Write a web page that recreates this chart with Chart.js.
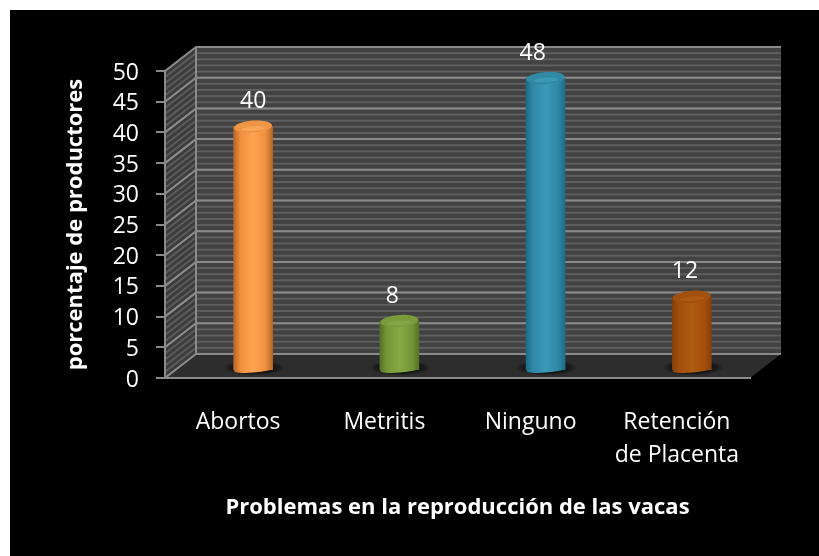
<!DOCTYPE html>
<html><head><meta charset="utf-8">
<style>html,body{margin:0;padding:0;background:#fff}canvas{display:block}</style>
<script src="https://cdn.jsdelivr.net/npm/chart.js@4"></script>
</head><body><canvas id="c" width="819" height="556"></canvas>
<script>
const categories = ['Abortos', 'Metritis', 'Ninguno', ['Retención', 'de Placenta']];
const values = [40, 8, 48, 12];
const yTicks = [0, 5, 10, 15, 20, 25, 30, 35, 40, 45, 50];
const xTitle = 'Problemas en la reproducción de las vacas';
const yTitle = 'porcentaje de productores';
const barDark = ['#b5662a', '#567226', '#1f6c86', '#84400a'];
const barMid = ['#f0903f', '#759637', '#2f88a5', '#a3500c'];
const barLight = ['#ffa552', '#86a843', '#3b9ab8', '#b05a12'];
const capColor = ['#ee9445', '#7a9a3b', '#308aa6', '#a2500e'];
const capGlow = ['#f9a658', '#85a644', '#3c9ab6', '#ae5a12'];

const FONT = '"Open Sans", sans-serif';
const DX = 31, DY = -24, BAR_DX = 15, RY = 6, BASE_RY = 3, TILT = -0.07;
const labelDx = [15, 8, 2, 8];

const scene = {
  id: 'scene',
  beforeDraw(chart) {
    const ctx = chart.ctx, a = chart.chartArea, y = chart.scales.y;
    ctx.save();
    ctx.fillStyle = '#000';
    ctx.fillRect(10, 10, chart.width - 10, chart.height - 10);
    const wy0 = a.top + DY, wy1 = a.bottom + DY, wx0 = a.left + DX, wx1 = a.right + DX;
    const step = (a.bottom - a.top) / 50;
    ctx.fillStyle = '#424242';
    ctx.fillRect(wx0, wy0, wx1 - wx0, wy1 - wy0);
    ctx.fillStyle = '#5e5e5e';
    for (let py = wy0; py < wy1; py += step) ctx.fillRect(wx0, py - 1, wx1 - wx0, 2);
    ctx.save();
    ctx.beginPath();
    ctx.moveTo(a.left, a.top); ctx.lineTo(wx0, wy0); ctx.lineTo(wx0, wy1); ctx.lineTo(a.left, a.bottom); ctx.closePath();
    ctx.clip();
    ctx.fillStyle = '#3c3c3c';
    ctx.fillRect(a.left, wy0, DX, a.bottom - wy0);
    ctx.strokeStyle = '#5c5c5c'; ctx.lineWidth = 2;
    for (let py = a.top - step; py < a.bottom + 40; py += step) {
      ctx.beginPath(); ctx.moveTo(a.left, py); ctx.lineTo(wx0, py + DY); ctx.stroke();
    }
    ctx.restore();
    ctx.fillStyle = '#2d2d2d';
    ctx.beginPath();
    ctx.moveTo(a.left, a.bottom); ctx.lineTo(a.right, a.bottom); ctx.lineTo(wx1, wy1); ctx.lineTo(wx0, wy1); ctx.closePath();
    ctx.fill();
    ctx.strokeStyle = '#8a8a8a'; ctx.lineWidth = 2;
    yTicks.forEach(v => {
      const p = y.getPixelForValue(v);
      ctx.beginPath(); ctx.moveTo(a.left, p); ctx.lineTo(wx0, p + DY); ctx.lineTo(wx1, p + DY); ctx.stroke();
    });
    ctx.beginPath(); ctx.moveTo(wx0, wy0); ctx.lineTo(wx0, wy1); ctx.stroke();
    ctx.restore();
  },
  beforeDatasetDraw(chart, args) {
    const ctx = chart.ctx;
    ctx.save();
    ctx.translate(BAR_DX, 0);
    args.meta.data.forEach(el => {
      const p = el.getProps(['x', 'base', 'width'], true);
      const cx = p.x + 1, cy = p.base - 2, r = p.width * 0.84;
      ctx.save();
      ctx.translate(cx, cy);
      ctx.scale(1, 0.25);
      const g = ctx.createRadialGradient(0, 0, r * 0.45, 0, 0, r);
      g.addColorStop(0, 'rgba(12,12,12,0.95)');
      g.addColorStop(0.55, 'rgba(20,20,20,0.7)');
      g.addColorStop(1, 'rgba(40,40,40,0)');
      ctx.fillStyle = g;
      ctx.beginPath();
      ctx.arc(0, 0, r, 0, Math.PI * 2);
      ctx.fill();
      ctx.restore();
      ctx.fillStyle = el.options.backgroundColor;
      ctx.beginPath();
      ctx.ellipse(p.x, p.base, p.width / 2, BASE_RY, TILT, 0, Math.PI * 2);
      ctx.fill();
    });
  },
  afterDatasetDraw(chart, args) {
    const ctx = chart.ctx;
    args.meta.data.forEach((el, i) => {
      const p = el.getProps(['x', 'y', 'width'], true);
      ctx.fillStyle = capColor[i];
      ctx.beginPath();
      ctx.ellipse(p.x, p.y, p.width / 2 - 0.5, RY, TILT, 0, Math.PI * 2);
      ctx.fill();
      ctx.fillStyle = capGlow[i];
      ctx.beginPath();
      ctx.ellipse(p.x, p.y + 2, p.width / 3.2, 2.2, TILT, 0, Math.PI * 2);
      ctx.fill();
    });
    ctx.restore();
    ctx.save();
    ctx.fillStyle = '#fff';
    ctx.font = '23px ' + FONT;
    ctx.textAlign = 'center'; ctx.textBaseline = 'middle';
    args.meta.data.forEach((el, i) => {
      const p = el.getProps(['x', 'y'], true);
      ctx.fillText(String(values[i]), p.x + labelDx[i], p.y - 25);
    });
    ctx.restore();
  }
};

new Chart(document.getElementById('c'), {
  type: 'bar',
  plugins: [scene],
  data: {
    labels: categories,
    datasets: [{
      data: values,
      yAxisID: 'depth',
      barThickness: 39,
      clip: false,
      borderWidth: 0,
      backgroundColor(ctx) {
        const chart = ctx.chart, i = ctx.dataIndex;
        const s = chart.scales.x;
        if (!s || i === undefined) return barMid[0];
        const c = s.getPixelForValue(i);
        if (!Number.isFinite(c)) return barMid[i];
        const g = chart.ctx.createLinearGradient(c - 19.5, 0, c + 19.5, 0);
        g.addColorStop(0, barDark[i]);
        g.addColorStop(0.18, barMid[i]);
        g.addColorStop(0.5, barLight[i]);
        g.addColorStop(0.82, barMid[i]);
        g.addColorStop(1, barDark[i]);
        return g;
      }
    }]
  },
  options: {
    responsive: false,
    animation: false,
    layout: { padding: { left: 0, right: 69, top: 71, bottom: 0 } },
    plugins: { legend: { display: false }, tooltip: { enabled: false } },
    scales: {
      x: {
        grid: { display: true, drawOnChartArea: false, drawTicks: false, color: '#8a8a8a' },
        border: { color: '#8a8a8a', width: 2 },
        ticks: { color: '#fff', padding: 28, maxRotation: 0, autoSkip: false, font: { family: FONT, size: 23, lineHeight: 1.44 } },
        title: { display: true, text: xTitle, color: '#fff', padding: { top: 0, bottom: 35 }, font: { family: FONT, size: 22, weight: 'bold', lineHeight: 1.2 } },
        afterFit(s) { s.height = 178; }
      },
      y: {
        min: 0, max: 50,
        afterBuildTicks(s) { s.ticks = yTicks.map(v => ({ value: v })); },
        grid: { drawOnChartArea: false, drawTicks: true, tickLength: 9, color: '#8a8a8a', lineWidth: 2 },
        border: { color: '#8a8a8a', width: 2 },
        ticks: { color: '#fff', padding: 17, labelOffset: 2, font: { family: FONT, size: 23 } },
        title: { display: true, text: yTitle, color: '#fff', padding: { top: 63, bottom: 0 }, font: { family: FONT, size: 22, weight: 'bold', lineHeight: 1.2 } },
        afterFit(s) { s.width = 165; }
      },
      depth: {
        display: false, min: -1.38, max: 49.15
      }
    }
  }
});
</script></body></html>
